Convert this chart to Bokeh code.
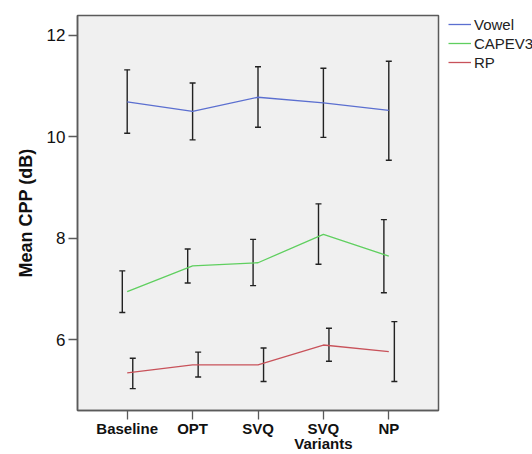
from bokeh.plotting import figure
from bokeh.layouts import row
from bokeh.models import (ColumnDataSource, Range1d, Whisker, TeeHead, FixedTicker,
                          Legend, LegendItem)
from bokeh.transform import dodge
from bokeh.embed import file_html
from bokeh.resources import INLINE

# Conditions along the x axis
variants = ["Baseline", "OPT", "SVQ", "SVQ\nVariants", "NP"]
positions = list(range(1, len(variants) + 1))

# Mean CPP (dB) and 95% CI bounds per task
vowel_mean = [10.69, 10.50, 10.78, 10.67, 10.52]
vowel_low = [10.07, 9.94, 10.19, 9.99, 9.54]
vowel_high = [11.32, 11.06, 11.38, 11.35, 11.49]

capev_mean = [6.95, 7.46, 7.52, 8.08, 7.65]
capev_low = [6.54, 7.12, 7.07, 7.49, 6.93]
capev_high = [7.36, 7.79, 7.98, 8.68, 8.37]

rp_mean = [5.35, 5.51, 5.51, 5.90, 5.77]
rp_low = [5.04, 5.27, 5.18, 5.58, 5.18]
rp_high = [5.64, 5.76, 5.84, 6.23, 6.36]

FONT = "Liberation Sans"
FRAME = "#5a5a5a"
H = 454

p = figure(width=440, height=H, x_range=Range1d(0.24, 5.76), y_range=Range1d(4.61, 12.39),
           output_backend="svg", toolbar_location=None,
           min_border_left=77, min_border_right=2, min_border_top=14, min_border_bottom=41)
p.background_fill_color = "#f0f0f0"
p.border_fill_color = "white"
p.outline_line_color = FRAME
p.outline_line_width = 1.5
p.xgrid.visible = False
p.ygrid.visible = False

series = [
    ("Vowel", vowel_mean, vowel_low, vowel_high, "#5b6fd0", 0.0),
    ("CAPEV3", capev_mean, capev_low, capev_high, "#5fcf5f", -0.075),
    ("RP", rp_mean, rp_low, rp_high, "#c8525a", 0.085),
]

# Side strip that carries the legend; its ranges keep the key lines out of view
leg_fig = figure(width=92, height=H, x_range=Range1d(-1, 0), y_range=Range1d(-1, 0),
                 output_backend="svg", toolbar_location=None,
                 x_axis_location=None, y_axis_location=None,
                 min_border_left=8, min_border_top=15, min_border_right=0, min_border_bottom=0,
                 outline_line_color=None)
leg_fig.xgrid.visible = False
leg_fig.ygrid.visible = False

items = []
for name, mean, low, high, color, shift in series:
    src = ColumnDataSource(dict(x=positions, mean=mean, low=low, high=high))
    p.line("x", "mean", source=src, line_color=color, line_width=1.3)
    w = Whisker(source=src, base=dodge("x", shift), lower="low", upper="high",
                line_color="#222222", line_width=1.4,
                lower_head=TeeHead(size=6, line_color="#222222", line_width=1.4),
                upper_head=TeeHead(size=6, line_color="#222222", line_width=1.4))
    p.add_layout(w)
    key = leg_fig.line("x", "mean", source=src, line_color=color, line_width=1.3)
    items.append(LegendItem(label=name, renderers=[key]))

legend = Legend(items=items, location="top_left", orientation="vertical",
                background_fill_alpha=0, border_line_alpha=0, padding=0, margin=0,
                spacing=1, glyph_width=23, glyph_height=18, label_height=18,
                label_standoff=3, label_text_font=FONT, label_text_font_size="15px",
                label_text_color="#222222")
leg_fig.add_layout(legend, "center")

# Axes
p.yaxis.ticker = FixedTicker(ticks=[6, 8, 10, 12])
p.yaxis.axis_label = "Mean CPP (dB)"
p.yaxis.axis_label_text_font = FONT
p.yaxis.axis_label_text_font_style = "bold"
p.yaxis.axis_label_text_font_size = "18px"
p.yaxis.axis_label_text_color = "#111111"
p.yaxis.axis_label_standoff = 8
p.yaxis.major_label_text_font = FONT
p.yaxis.major_label_text_font_size = "17px"
p.yaxis.major_label_text_color = "#111111"
p.yaxis.major_label_standoff = 3

p.xaxis.ticker = FixedTicker(ticks=positions)
p.xaxis.major_label_overrides = {pos: lab for pos, lab in zip(positions, variants)}
p.xaxis.major_label_text_font = FONT
p.xaxis.major_label_text_font_style = "bold"
p.xaxis.major_label_text_font_size = "15px"
p.xaxis.major_label_text_line_height = 0.9
p.xaxis.major_label_text_color = "#111111"
p.xaxis.major_label_standoff = 0

for ax in (p.xaxis, p.yaxis):
    ax.axis_line_color = FRAME
    ax.axis_line_width = 1.5
    ax.major_tick_line_color = FRAME
    ax.major_tick_line_width = 1.3
    ax.major_tick_out = 9
    ax.major_tick_in = 0
    ax.minor_tick_line_color = None

layout = row(p, leg_fig, spacing=0)
open("out.html", "w").write(file_html(layout, INLINE))
